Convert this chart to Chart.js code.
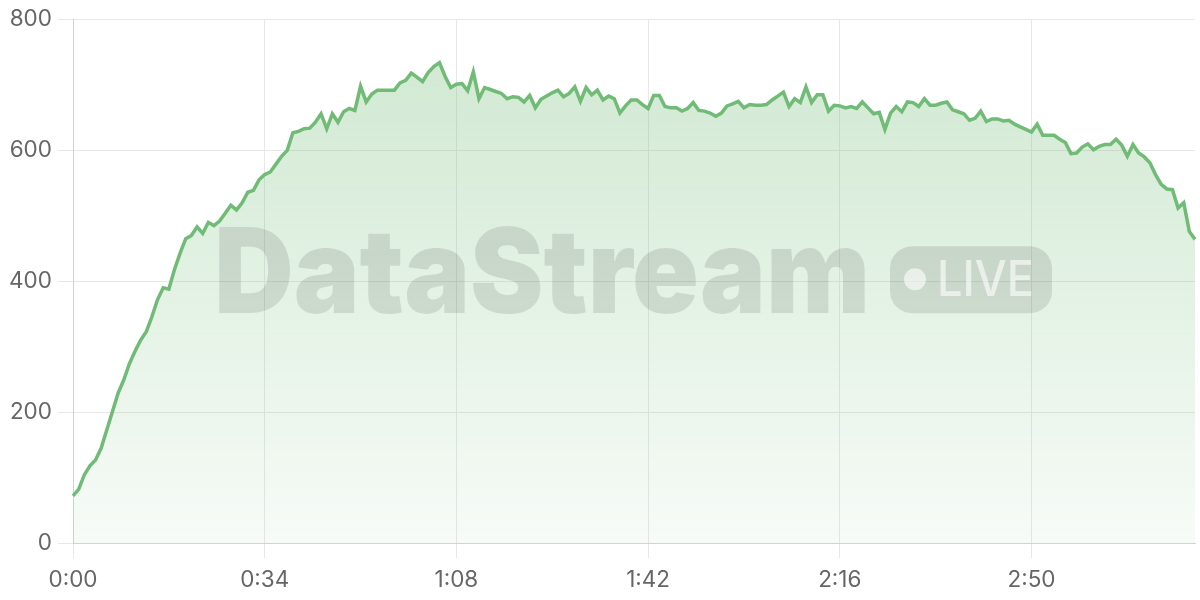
<!DOCTYPE html>
<html>
<head>
<meta charset="utf-8">
<style>
html,body{margin:0;padding:0;background:#ffffff;}
#wrap{width:1200px;height:600px;position:relative;}
</style>
<script src="https://cdn.jsdelivr.net/npm/chart.js@4.4.1/dist/chart.umd.min.js"></script>
</head>
<body>
<div id="wrap"><canvas id="chart"></canvas></div>
<script>
// ---- data ----
const values = [
  72, 82, 104, 118, 127, 145, 173, 201, 229, 249,
  274, 293, 310, 323, 346, 372, 390, 388, 418, 443,
  465, 470, 483, 473, 490, 485, 492, 504, 516, 509,
  520, 536, 539, 555, 563, 567, 579, 591, 600, 627,
  629, 633, 634, 643, 656, 633, 656, 643, 659, 664,
  661, 698, 674, 686, 692, 692, 692, 692, 703, 707,
  718, 712, 705, 719, 728, 734, 713, 696, 701, 702,
  691, 720, 679, 696, 693, 690, 687, 679, 682, 681,
  674, 684, 665, 678, 683, 688, 692, 682, 687, 697,
  675, 696, 685, 692, 677, 683, 679, 657, 668, 677,
  677, 670, 664, 684, 684, 667, 665, 665, 660, 664,
  673, 661, 660, 657, 652, 657, 668, 671, 675, 665,
  670, 669, 669, 670, 677, 683, 689, 667, 679, 673,
  697, 673, 685, 685, 660, 669, 668, 665, 667, 664,
  674, 665, 656, 658, 632, 657, 667, 659, 674, 673,
  667, 679, 669, 669, 672, 674, 662, 659, 656, 646,
  649, 660, 644, 648, 648, 645, 646, 640, 636, 632,
  628, 640, 623, 623, 623, 617, 612, 595, 596, 605,
  610, 601, 606, 609, 609, 617, 608, 591, 609, 596,
  590, 581, 563, 548, 541, 540, 512, 520, 476, 464
];
// one sample per second -> category labels m:ss
const categories = values.map((_, s) => Math.floor(s / 60) + ':' + String(s % 60).padStart(2, '0'));
const xTickLabels = ['0:00', '0:34', '1:08', '1:42', '2:16', '2:50'];
const yTicks = [0, 200, 400, 600, 800];
const brandText = 'DataStream';
const badgeText = 'LIVE';

// ---- styles ----
const FONT = 'Inter, "Noto Sans", sans-serif';
const LINE = 'rgb(112,187,117)';
const GRID = '#e8e8e8';
const BORDER = '#d2d2d2';

const watermark = {
  id: 'watermark',
  afterDraw(chart) {
    const ctx = chart.ctx;
    const a = chart.chartArea;
    const cx = (a.left + a.right) / 2;
    const cy = (a.top + a.bottom) / 2;
    const textW = 656, gap = 20, pillW = 162, pillH = 67;
    const total = textW + gap + pillW;
    const left = cx - total / 2 - 1;
    const baseline = cy + 32;
    ctx.save();
    ctx.fillStyle = 'rgba(0,0,0,0.105)';
    ctx.font = '900 118px ' + FONT;
    ctx.textBaseline = 'alphabetic';
    const mw = ctx.measureText(brandText).width;
    ctx.save();
    ctx.translate(left, baseline);
    ctx.scale(textW / mw, 1);
    ctx.fillText(brandText, 0, 0);
    ctx.restore();
    // pill
    const px = left + textW + gap, py = baseline - pillH, r = 22;
    ctx.beginPath();
    ctx.moveTo(px + r, py);
    ctx.lineTo(px + pillW - r, py);
    ctx.arcTo(px + pillW, py, px + pillW, py + r, r);
    ctx.lineTo(px + pillW, py + pillH - r);
    ctx.arcTo(px + pillW, py + pillH, px + pillW - r, py + pillH, r);
    ctx.lineTo(px + r, py + pillH);
    ctx.arcTo(px, py + pillH, px, py + pillH - r, r);
    ctx.lineTo(px, py + r);
    ctx.arcTo(px, py, px + r, py, r);
    ctx.closePath();
    ctx.fill();
    ctx.fillStyle = 'rgba(255,255,255,0.6)';
    ctx.beginPath();
    ctx.arc(px + 25, py + 33, 11, 0, Math.PI * 2);
    ctx.fill();
    ctx.font = '500 49px ' + FONT;
    const lw = ctx.measureText(badgeText).width;
    ctx.save();
    ctx.translate(px + 47, py + 50);
    ctx.scale(97 / lw, 1);
    ctx.fillText(badgeText, 0, 0);
    ctx.restore();
    ctx.restore();
  }
};

new Chart(document.getElementById('chart'), {
  type: 'line',
  data: {
    labels: categories,
    datasets: [{
      data: values,
      borderColor: LINE,
      borderWidth: 3.5,
      pointRadius: 0,
      pointHoverRadius: 0,
      tension: 0,
      fill: 'origin',
      backgroundColor(ctx) {
        const a = ctx.chart.chartArea;
        if (!a) return 'rgba(112,187,117,0.2)';
        const g = ctx.chart.ctx.createLinearGradient(0, a.top, 0, a.bottom);
        g.addColorStop(0, 'rgba(112,187,117,0.34)');
        g.addColorStop(1, 'rgba(112,187,117,0.06)');
        return g;
      }
    }]
  },
  options: {
    responsive: true,
    maintainAspectRatio: false,
    animation: false,
    layout: { padding: { top: 7, right: 5, left: 0, bottom: 0 } },
    plugins: { legend: { display: false }, tooltip: { enabled: false } },
    scales: {
      x: {
        type: 'category',
        offset: false,
        afterFit(s) { s.height = 57; },
        grid: {
          color(c) {
            const l = c.tick ? categories[c.tick.value] : null;
            return xTickLabels.includes(l) ? GRID : 'rgba(0,0,0,0)';
          },
          tickLength: 15,
          drawTicks: true
        },
        border: { color: BORDER, width: 1 },
        ticks: {
          autoSkip: false,
          maxRotation: 0,
          padding: 9,
          color: '#666666',
          font: { family: FONT, size: 22.5 },
          callback(v) {
            const l = categories[v];
            return xTickLabels.includes(l) ? l : null;
          }
        }
      },
      y: {
        min: yTicks[0],
        max: yTicks[yTicks.length - 1],
        afterFit(s) { s.width = 73; },
        afterBuildTicks(s) { s.ticks = yTicks.map(v => ({ value: v })); },
        grid: { color: GRID, tickLength: 15 },
        border: { color: BORDER, width: 1 },
        ticks: {
          padding: 6,
          color: '#666666',
          font: { family: FONT, size: 22.5 }
        }
      }
    }
  },
  plugins: [watermark]
});
</script>
</body>
</html>
